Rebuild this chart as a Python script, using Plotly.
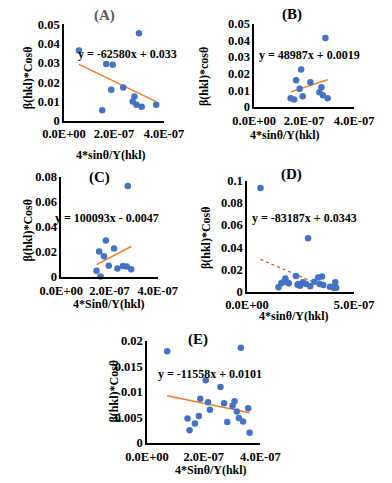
import numpy as np
import plotly.graph_objects as go

W, H = 392, 483

# ---------------- data ----------------
a_x = [0.60, 3.00, 1.69, 1.95, 1.89, 2.37, 1.53, 2.82, 2.75, 2.90, 3.11, 3.69]
a_y = [0.0365, 0.0455, 0.0295, 0.0290, 0.0160, 0.0172, 0.0054, 0.0125, 0.0099, 0.0082, 0.0072, 0.0082]
a_fit = (-62580, 0.033)

b_x = [2.85, 1.88, 1.68, 2.25, 1.82, 2.69, 2.61, 2.75, 2.94, 1.94, 1.46, 1.60]
b_y = [0.0413, 0.0225, 0.0161, 0.0149, 0.0110, 0.0118, 0.0089, 0.0070, 0.0052, 0.0064, 0.0052, 0.0045]
b_fit = (48987, 0.0019)

c_x = [2.76, 1.85, 2.19, 1.57, 1.77, 1.97, 1.46, 1.63, 2.33, 2.56, 2.71, 2.90]
c_y = [0.0728, 0.0292, 0.0227, 0.0204, 0.0165, 0.0090, 0.0049, 0.0003, 0.0067, 0.0088, 0.0083, 0.0062]
c_fit = (100093, -0.0047)

d_x = [0.63, 2.85, 2.28, 1.47, 1.60, 1.72, 1.86, 1.95, 1.79, 2.39, 2.48, 2.62,
       2.76, 2.95, 3.14, 3.32, 3.50, 3.39, 3.56, 3.88, 4.02, 4.12, 4.16, 2.36]
d_y = [0.0935, 0.0482, 0.0141, 0.0039, 0.0074, 0.0088, 0.0083, 0.0074, 0.0118, 0.0068, 0.0053, 0.0083,
       0.0068, 0.0048, 0.0088, 0.0127, 0.0136, 0.0068, 0.0059, 0.0044, 0.0039, 0.0083, 0.0033, 0.0062]
d_fit = (-83187, 0.0343)

e_x = [0.71, 3.31, 2.07, 2.59, 1.88, 2.15, 2.22, 2.72, 3.09, 3.02,
       3.17, 3.57, 1.83, 1.43, 1.69, 1.50, 2.83, 3.24, 3.39, 3.62]
e_y = [0.0180, 0.0187, 0.0123, 0.0110, 0.0087, 0.0080, 0.0065, 0.0078, 0.0082, 0.0073,
       0.0062, 0.0068, 0.0053, 0.0048, 0.0038, 0.0025, 0.0041, 0.0049, 0.0042, 0.0020]
e_fit = (-11558, 0.0101)

a_yticks = [0, 0.01, 0.02, 0.03, 0.04, 0.05]
a_ytext = ["0", "0.01", "0.02", "0.03", "0.04", "0.05"]
c_yticks = [0, 0.02, 0.04, 0.06, 0.08]
c_ytext = ["0", "0.02", "0.04", "0.06", "0.08"]
d_yticks = [0, 0.02, 0.04, 0.06, 0.08, 0.1]
d_ytext = ["0", "0.02", "0.04", "0.06", "0.08", "0.1"]
e_yticks = [0, 0.005, 0.01, 0.015, 0.02]
e_ytext = ["0", "0.005", "0.01", "0.015", "0.02"]
x4_ticks = [0, 2e-7, 4e-7]
x4_text = ["0.0E+00", "2.0E-07", "4.0E-07"]
x5_ticks = [0, 5e-7]
x5_text = ["0.0E+00", "5.0E-07"]

# ---------------- layout helpers ----------------
FONT = "Liberation Serif"
BLUE = "#4472C4"
ORANGE = "#ED7D31"

def px_x(p):
    return p / W

def px_y(p):
    return 1 - p / H

panels = [
    dict(x=a_x, y=a_y, fit=a_fit, xd=(47, 159), yd=(18, 117), xr=[0, 4e-7], yr=[0, 0.05],
         yt=a_yticks, ytt=a_ytext, xt=x4_ticks, xtt=x4_text, title="(A)", tpos=(92, 9), tcol="#595959",
         eq="y = -62580x + 0.033", epos=(118, 48), yl="β(hkl)*Cosθ", ylpos=(7, 73),
         xl="4*sinθ/Y(hkl)", xlpos=(100, 152), dash="solid", lc=ORANGE),
    dict(x=b_x, y=b_y, fit=b_fit, xd=(260, 372), yd=(17, 103), xr=[0, 4e-7], yr=[0, 0.05],
         yt=a_yticks, ytt=a_ytext, xt=x4_ticks, xtt=x4_text, title="(B)", tpos=(302, 8), tcol="#000000",
         eq="y = 48987x + 0.0019", epos=(322, 49), yl="β(hkl)*cosθ", ylpos=(204, 72),
         xl="4*sinθ/Y(hkl)", xlpos=(295, 132), dash="solid", lc=ORANGE),
    dict(x=c_x, y=c_y, fit=c_fit, xd=(44, 152), yd=(175, 278), xr=[0, 4e-7], yr=[0, 0.08],
         yt=c_yticks, ytt=c_ytext, xt=x4_ticks, xtt=x4_text, title="(C)", tpos=(87, 176), tcol="#000000",
         eq="y = 100093x - 0.0047", epos=(95, 217), yl="β(hkl)*Cosθ", ylpos=(7, 230),
         xl="4*Sinθ/Y(hkl)", xlpos=(97, 306), dash="solid", lc=ORANGE),
    dict(x=d_x, y=d_y, fit=d_fit, xd=(252, 372), yd=(179, 293), xr=[0, 5e-7], yr=[0, 0.1],
         yt=d_yticks, ytt=d_ytext, xt=x5_ticks, xtt=x5_text, title="(D)", tpos=(302, 173), tcol="#000000",
         eq="y = -83187x + 0.0343", epos=(316, 217), yl="β(hkl)*Cosθ", ylpos=(206, 237),
         xl="4*sinθ/Y(hkl)", xlpos=(305, 318), dash="dot", lc="#C55A11"),
    dict(x=e_x, y=e_y, fit=e_fit, xd=(140, 267), yd=(344, 449), xr=[0, 4e-7], yr=[0, 0.02],
         yt=e_yticks, ytt=e_ytext, xt=x4_ticks, xtt=x4_text, title="(E)", tpos=(197, 342), tcol="#000000",
         eq="y = -11558x + 0.0101", epos=(211, 378), yl="β(hkl)*Cosθ", ylpos=(103, 395),
         xl="4*Sinθ/Y(hkl)", xlpos=(212, 477), dash="solid", lc=ORANGE),
]

fig = go.Figure()
annotations = []
layout_axes = {}

for i, p in enumerate(panels, start=1):
    xs = np.array(p["x"]) * 1e-7
    ys = np.array(p["y"])
    xa = "x" if i == 1 else f"x{i}"
    ya = "y" if i == 1 else f"y{i}"
    m, b = p["fit"]
    fx = np.array([xs.min(), xs.max()])
    fy = m * fx + b
    fig.add_trace(go.Scatter(x=fx, y=fy, mode="lines", xaxis=xa, yaxis=ya,
                             line=dict(color=p["lc"], width=1.5 if p["dash"] == "solid" else 1.2, dash=p["dash"]),
                             showlegend=False, hoverinfo="skip"))
    fig.add_trace(go.Scatter(x=xs, y=ys, mode="markers", xaxis=xa, yaxis=ya,
                             marker=dict(color=BLUE, size=6.5), cliponaxis=False,
                             showlegend=False))
    axfont = dict(family=FONT, size=12.5, color="#000000", weight="bold")
    layout_axes["xaxis" if i == 1 else f"xaxis{i}"] = dict(
        domain=[px_x(p["xd"][0]), px_x(p["xd"][1])], range=p["xr"], anchor=ya,
        showgrid=False, zeroline=False, showline=True, linecolor="#000000", linewidth=1.5,
        tickvals=p["xt"], ticktext=p["xtt"], ticks="", ticklabelstandoff=1, tickfont=axfont)
    layout_axes["yaxis" if i == 1 else f"yaxis{i}"] = dict(
        domain=[px_y(p["yd"][1]), px_y(p["yd"][0])], range=p["yr"], anchor=xa,
        showgrid=False, zeroline=False, showline=True, linecolor="#000000", linewidth=1.5,
        tickvals=p["yt"], ticktext=p["ytt"], ticks="", tickfont=axfont)
    annotations.append(dict(text=p["title"], x=px_x(p["tpos"][0]), y=px_y(p["tpos"][1]),
                            xref="paper", yref="paper", showarrow=False, xanchor="center", yanchor="middle",
                            font=dict(family=FONT, size=15, color=p["tcol"], weight="bold")))
    annotations.append(dict(text=p["eq"], x=px_x(p["epos"][0]), y=px_y(p["epos"][1]),
                            xref="paper", yref="paper", showarrow=False, xanchor="center", yanchor="middle",
                            font=dict(family=FONT, size=12, color="#000000", weight="bold")))
    annotations.append(dict(text=p["yl"], x=px_x(p["ylpos"][0]), y=px_y(p["ylpos"][1]),
                            xref="paper", yref="paper", showarrow=False, xanchor="center", yanchor="middle",
                            textangle=-90,
                            font=dict(family=FONT, size=12, color="#000000", weight="bold")))
    annotations.append(dict(text=p["xl"], x=px_x(p["xlpos"][0]), y=px_y(p["xlpos"][1]),
                            xref="paper", yref="paper", showarrow=False, xanchor="center", yanchor="middle",
                            font=dict(family=FONT, size=12, color="#000000", weight="bold")))

fig.update_layout(width=W, height=H, margin=dict(l=0, r=0, t=0, b=0),
                  paper_bgcolor="white", plot_bgcolor="white",
                  annotations=annotations, **layout_axes)

fig.write_html("out.html", config={"displayModeBar": False},
               post_script="document.body.style.margin='0px';")
